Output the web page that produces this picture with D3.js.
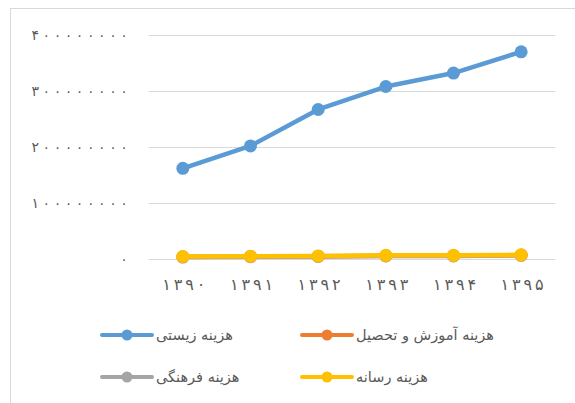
<!doctype html>
<html lang="fa">
<head>
    <meta charset="UTF-8">
    <title>هزینه‌ها</title>
    <script src="https://cdnjs.cloudflare.com/ajax/libs/d3/7.8.5/d3.min.js"></script>
    <style>
        html, body {
            margin: 0;
            padding: 0;
            background: #fff;
            overflow: hidden;
        }
        text {
            font-family: "DejaVu Sans", sans-serif;
            fill: #595959;
        }
    </style>
</head>
<body>
<svg id="chart" width="575" height="403"></svg>
<script>
    // years on the x axis
    const years = ["۱۳۹۰", "۱۳۹۱", "۱۳۹۲", "۱۳۹۳", "۱۳۹۴", "۱۳۹۵"];
    // y axis ticks and their labels
    const yTicks = [0, 100000000, 200000000, 300000000, 400000000];
    const yTickLabels = ["۰", "۱۰۰۰۰۰۰۰۰", "۲۰۰۰۰۰۰۰۰", "۳۰۰۰۰۰۰۰۰", "۴۰۰۰۰۰۰۰۰"];

    // series values
    const livingCost = [162000000, 202000000, 267000000, 308000000, 332000000, 370000000];
    const educationCost = [3500000, 4000000, 4500000, 5500000, 5500000, 6500000];
    const cultureCost = [4000000, 4500000, 5000000, 6000000, 6000000, 7000000];
    const mediaCost = [4500000, 5000000, 5500000, 6500000, 6500000, 7500000];

    const seriesNames = ["هزینه زیستی", "هزینه آموزش و تحصیل", "هزینه فرهنگی", "هزینه رسانه"];
    const seriesColors = ["#5b9bd5", "#ed7d31", "#a5a5a5", "#ffc000"];

    const series = [livingCost, educationCost, cultureCost, mediaCost].map((values, i) => ({
        name: seriesNames[i],
        color: seriesColors[i],
        values: values
    }));

    const svg = d3.select("#chart");

    // outer chart frame, runs past right and bottom edge
    svg.append("rect")
        .attr("x", 10.5).attr("y", 8.5)
        .attr("width", 620).attr("height", 420)
        .attr("fill", "none")
        .attr("stroke", "#d9d9d9");

    const plot = {left: 149, right: 555, top: 35, bottom: 259};

    const x = d3.scaleBand().domain(years).range([plot.left, plot.right]);
    const y = d3.scaleLinear().domain([0, 400000000]).range([plot.bottom, plot.top]);

    // letter-spacing is ignored for arabic script, so space the digits by hand
    function spacedDigits(sel, label, rightX, step) {
        const chars = Array.from(label);
        sel.selectAll("tspan")
            .data(chars)
            .join("tspan")
            .attr("x", (c, k) => rightX - step * (chars.length - 1 - k))
            .text(c => c);
    }

    // gridlines
    svg.append("g")
        .selectAll("line")
        .data(yTicks)
        .join("line")
        .attr("x1", plot.left).attr("x2", plot.right)
        .attr("y1", d => Math.round(y(d)) + 0.5)
        .attr("y2", d => Math.round(y(d)) + 0.5)
        .attr("stroke", "#d9d9d9")
        .attr("stroke-width", 1);

    // y labels
    svg.append("g")
        .selectAll("text")
        .data(yTicks)
        .join("text")
        .attr("y", d => y(d) + 4.5)
        .attr("text-anchor", "middle")
        .attr("font-size", 14)
        .each(function(d, i) {
            spacedDigits(d3.select(this), yTickLabels[i], 124, 11.1);
        });

    // x labels
    svg.append("g")
        .selectAll("text")
        .data(years)
        .join("text")
        .attr("y", 290)
        .attr("text-anchor", "middle")
        .attr("font-size", 16)
        .each(function(d) {
            const cx = x(d) + x.bandwidth() / 2 + 1;
            spacedDigits(d3.select(this), d, cx + 1.5 * 11.5, 11.5);
        });

    const line = d3.line()
        .x((d, i) => x(years[i]) + x.bandwidth() / 2)
        .y(d => y(d));

    series.forEach(s => {
        const g = svg.append("g");
        g.append("path")
            .datum(s.values)
            .attr("d", line)
            .attr("fill", "none")
            .attr("stroke", s.color)
            .attr("stroke-width", 4.5)
            .attr("stroke-linejoin", "round")
            .attr("stroke-linecap", "round");
        g.selectAll("circle")
            .data(s.values)
            .join("circle")
            .attr("cx", (d, i) => x(years[i]) + x.bandwidth() / 2)
            .attr("cy", d => y(d))
            .attr("r", 6.5)
            .attr("fill", s.color);
    });

    // legend, 2 x 2
    const legendPos = [[102, 335], [302, 335], [102, 377], [302, 377]];
    series.forEach((s, i) => {
        const [lx, ly] = legendPos[i];
        const g = svg.append("g").attr("transform", `translate(${lx},${ly})`);
        g.append("line")
            .attr("x1", 0).attr("x2", 50)
            .attr("y1", 0).attr("y2", 0)
            .attr("stroke", s.color)
            .attr("stroke-width", 4)
            .attr("stroke-linecap", "round");
        g.append("circle")
            .attr("cx", 25).attr("cy", 0).attr("r", 5.5)
            .attr("fill", s.color);
        g.append("text")
            .attr("x", 54)
            .attr("y", 5)
            .attr("font-size", 14.5)
            .attr("direction", "rtl")
            .attr("text-anchor", "end")
            .text(s.name);
    });
</script>
</body>
</html>
